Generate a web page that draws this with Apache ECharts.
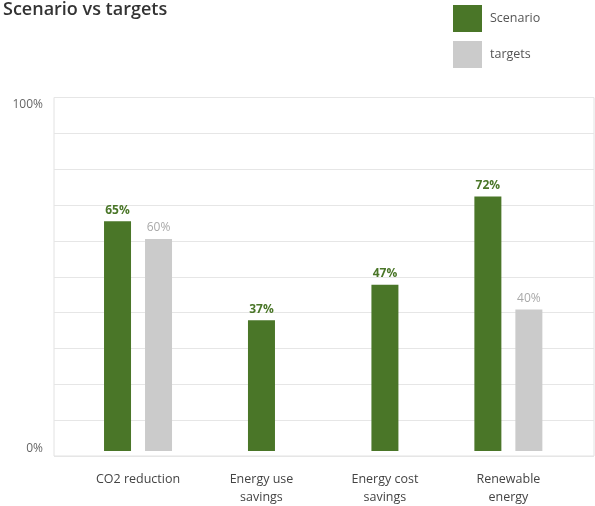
<!DOCTYPE html>
<html>
<head>
<meta charset="utf-8">
<style>
  html, body { margin: 0; padding: 0; background: #ffffff; }
  #chart { width: 595px; height: 506px; }
</style>
<script src="https://cdn.jsdelivr.net/npm/echarts@6/dist/echarts.min.js"></script>
</head>
<body>
<div id="chart"></div>
<script>
// Chart data
const categories = ['CO2 reduction', 'Energy use\nsavings', 'Energy cost\nsavings', 'Renewable\nenergy'];
const scenario = [65, 37, 47, 72];
const targets = [60, null, null, 40];
const labelledTicks = [0, 100];

// Scenario bars that sit next to a target bar, and those that stand alone (centred)
const scenarioPaired = scenario.map((v, i) => (targets[i] == null ? null : v));
const scenarioAlone = scenario.map((v, i) => (targets[i] == null ? v : null));

const GREEN = '#4a7628';
const GREY = '#cbcbcb';
const FONT = 'Open Sans';
const BAR_W = 27;

const greenLabel = {
  show: true, position: 'top', distance: 5, formatter: '{c}%',
  color: GREEN, fontFamily: FONT, fontWeight: 'bold', fontSize: 12
};

const chart = echarts.init(document.getElementById('chart'), null, { renderer: 'canvas' });
chart.setOption({
  animation: false,
  textStyle: { fontFamily: FONT },
  title: {
    text: 'Scenario vs targets',
    left: 3, top: 1, padding: 0,
    textStyle: { fontFamily: FONT, fontWeight: 600, fontSize: 18, color: '#333333' }
  },
  legend: {
    orient: 'vertical', left: 453, top: 5, padding: 0,
    itemWidth: 29, itemHeight: 27, itemGap: 9, icon: 'rect',
    data: ['Scenario', 'targets'],
    textStyle: { fontFamily: FONT, fontSize: 12.5, color: '#555555', padding: [0, 0, 0, 3] }
  },
  grid: [
    // framed plotting area carrying the percentage scale
    { left: 54, right: 1, top: 97.5, bottom: 50, show: true, borderColor: '#e2e2e2', borderWidth: 1 },
    // area holding the category groups
    { left: 76.3, right: 24.9, top: 97.5, bottom: 50 }
  ],
  xAxis: [
    { gridIndex: 0, type: 'category', data: categories, show: false },
    {
      gridIndex: 1, type: 'category', data: categories,
      axisLine: { show: false }, axisTick: { show: false },
      axisLabel: {
        interval: 0, margin: 19, color: '#444444', fontFamily: FONT,
        fontSize: 12.5, lineHeight: 18
      }
    },
    { gridIndex: 1, type: 'category', data: categories, show: false, position: 'top' }
  ],
  yAxis: [
    {
      gridIndex: 0, type: 'value', min: 0, max: 100, interval: 10,
      axisLine: { show: false }, axisTick: { show: false },
      splitLine: { lineStyle: { color: '#e6e6e6', width: 1 } },
      axisLabel: {
        margin: 11, color: '#666666', fontFamily: FONT, fontSize: 12,
        formatter: v => {
          if (!labelledTicks.includes(v)) return '';
          return v === 100 ? '{hi|' + v + '%}' : '{lo|' + v + '%}';
        },
        rich: {
          hi: { padding: [14, 0, 0, 0], color: '#666666', fontFamily: FONT, fontSize: 12 },
          lo: { padding: [0, 0, 14, 0], color: '#666666', fontFamily: FONT, fontSize: 12 }
        }
      }
    },
    { gridIndex: 1, type: 'value', min: 0, max: 100, show: false }
  ],
  series: [
    {
      name: 'Scenario', type: 'bar', xAxisIndex: 1, yAxisIndex: 1,
      data: scenarioPaired, barWidth: BAR_W, barGap: (14 / BAR_W * 100).toFixed(2) + '%',
      itemStyle: { color: GREEN }, label: greenLabel
    },
    {
      name: 'targets', type: 'bar', xAxisIndex: 1, yAxisIndex: 1,
      data: targets, barWidth: BAR_W,
      itemStyle: { color: GREY },
      label: {
        show: true, position: 'top', distance: 5, formatter: '{c}%',
        color: '#a9a9a9', fontFamily: FONT, fontSize: 12
      }
    },
    {
      name: 'Scenario', type: 'bar', xAxisIndex: 2, yAxisIndex: 1,
      data: scenarioAlone, barWidth: BAR_W,
      itemStyle: { color: GREEN }, label: greenLabel
    }
  ]
});
</script>
</body>
</html>
